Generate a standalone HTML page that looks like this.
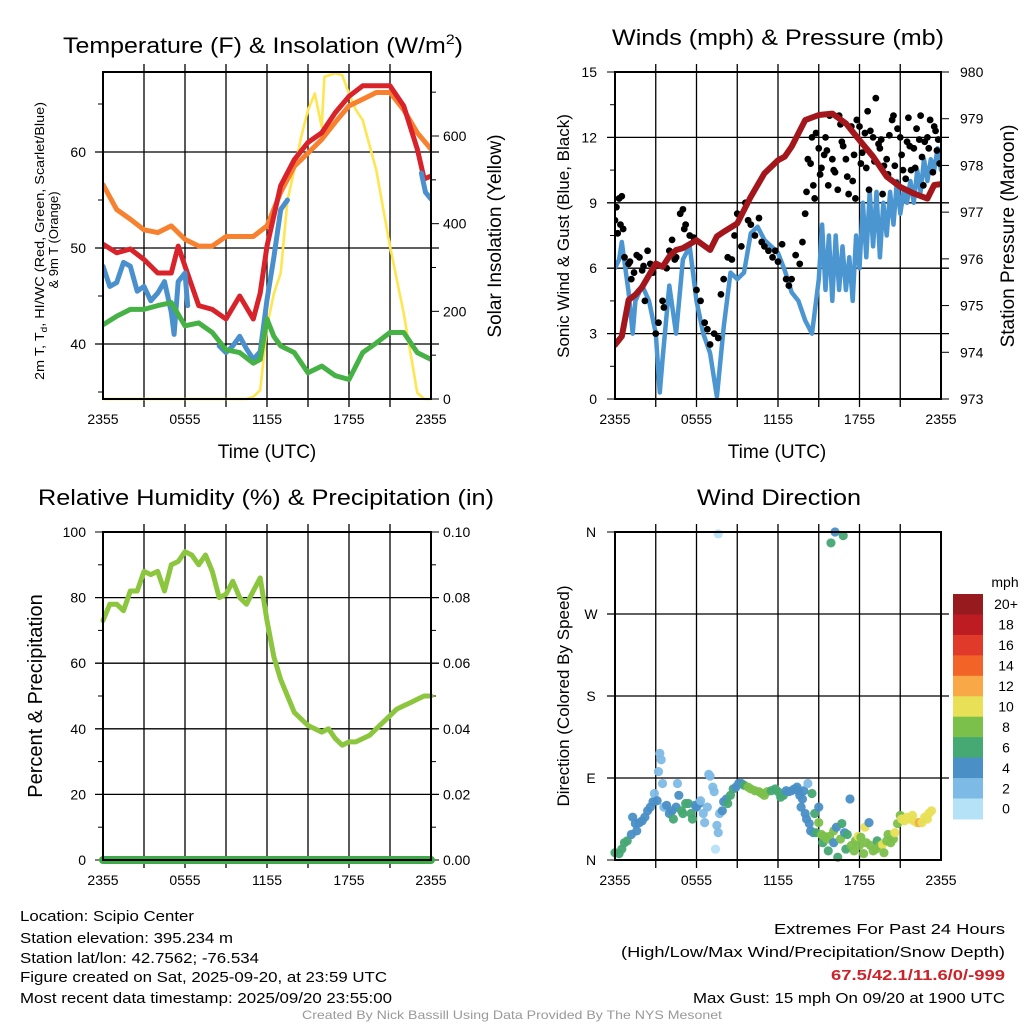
<!DOCTYPE html>
<html><head><meta charset="utf-8"><style>
html,body{margin:0;padding:0;background:#fff;}
svg{display:block;font-family:"Liberation Sans",Arial,sans-serif;}
</style></head><body>
<svg id="chart" width="1024" height="1024" viewBox="0 0 1024 1024" xmlns="http://www.w3.org/2000/svg">
<rect width="1024" height="1024" fill="#fff"/>
<text x="63" y="53" font-size="22" textLength="400" lengthAdjust="spacingAndGlyphs">Temperature (F) &amp; Insolation (W/m<tspan font-size="14" dy="-9">2</tspan><tspan dy="9">)</tspan></text>
<text x="612" y="45" font-size="22" textLength="332" lengthAdjust="spacingAndGlyphs">Winds (mph) &amp; Pressure (mb)</text>
<text x="38" y="505" font-size="22" textLength="456" lengthAdjust="spacingAndGlyphs">Relative Humidity (%) &amp; Precipitation (in)</text>
<text x="697" y="505" font-size="22" textLength="164" lengthAdjust="spacingAndGlyphs">Wind Direction</text>
<text transform="translate(44,241) rotate(-90)" text-anchor="middle" font-size="13" textLength="278" lengthAdjust="spacingAndGlyphs">2m T, T<tspan font-size="9" dy="3">d</tspan><tspan dy="-3">, HI/WC (Red, Green, Scarlet/Blue)</tspan></text>
<text transform="translate(58,240) rotate(-90)" text-anchor="middle" font-size="13">&amp; 9m T (Orange)</text>
<text transform="translate(501,236) rotate(-90)" text-anchor="middle" font-size="19">Solar Insolation (Yellow)</text>
<text x="267" y="458" text-anchor="middle" font-size="19">Time (UTC)</text>
<text transform="translate(569,236) rotate(-90)" text-anchor="middle" font-size="17">Sonic Wind &amp; Gust (Blue, Black)</text>
<text transform="translate(1014,236) rotate(-90)" text-anchor="middle" font-size="19">Station Pressure (Maroon)</text>
<text x="777" y="458" text-anchor="middle" font-size="19">Time (UTC)</text>
<text transform="translate(42,696) rotate(-90)" text-anchor="middle" font-size="20">Percent &amp; Precipitation</text>
<text transform="translate(569,696) rotate(-90)" text-anchor="middle" font-size="17">Direction (Colored By Speed)</text>
<g font-size="15">
<text x="20" y="921" textLength="174" lengthAdjust="spacingAndGlyphs">Location: Scipio Center</text>
<text x="20" y="943" textLength="213" lengthAdjust="spacingAndGlyphs">Station elevation: 395.234 m</text>
<text x="20" y="963" textLength="239" lengthAdjust="spacingAndGlyphs">Station lat/lon: 42.7562; -76.534</text>
<text x="20" y="982" textLength="367" lengthAdjust="spacingAndGlyphs">Figure created on Sat, 2025-09-20, at 23:59 UTC</text>
<text x="20" y="1003" textLength="372" lengthAdjust="spacingAndGlyphs">Most recent data timestamp: 2025/09/20 23:55:00</text>
</g>
<g font-size="15">
<text x="774" y="934" textLength="231" lengthAdjust="spacingAndGlyphs">Extremes For Past 24 Hours</text>
<text x="621" y="957" textLength="384" lengthAdjust="spacingAndGlyphs">(High/Low/Max Wind/Precipitation/Snow Depth)</text>
<text x="831" y="980" fill="#cc2229" font-weight="bold" textLength="174" lengthAdjust="spacingAndGlyphs">67.5/42.1/11.6/0/-999</text>
<text x="693" y="1003" textLength="312" lengthAdjust="spacingAndGlyphs">Max Gust: 15 mph On 09/20 at 1900 UTC</text>
</g>
<text x="302" y="1019" font-size="12" fill="#999" textLength="420" lengthAdjust="spacingAndGlyphs">Created By Nick Bassill Using Data Provided By The NYS Mesonet</text>
<g id="plots"></g>
</svg>
<script>
// ---------- DATA ----------
const xTickLabels = ["2355","0555","1155","1755","2355"];
const tempTicks = [40,50,60];
const solarTicks = [0,200,400,600];
const redT =  [0,1,2,3,4,5,5.5,6,7,8,9,10,11,11.5,12,13,14,15,16,17,18,19,20,21,22,23,23.5,24];
const redV =  [50.4,49.5,49.9,48.8,47.4,47.4,50.2,48.1,44,43.6,42.6,45,42.6,45.3,50.2,56.5,59.2,61,62,64.1,65.8,66.9,66.9,66.9,64.8,60.3,57.2,57.5];
const blueT = [0,0.5,1,1.5,2,2.5,3,3.5,4,4.5,5,5.2,5.5,6,6.2,null,8.5,9,9.5,10,10.5,11,11.5,12,12.5,13,13.5,null,23.3,23.6,24];
const blueV = [48.1,46,46.4,48.5,48.1,45.5,46,44.5,45.3,46.5,43.3,41,46.5,47.4,44,null,39.8,39.1,39.8,40.8,39.5,38.4,39.2,44.6,49,54,55,null,57.8,55.8,55.1];
const greenT = [0,1,2,3,4,5,6,7,8,9,10,11,11.5,12,12.5,13,14,15,16,17,18,18.5,19,20,21,22,23,24];
const greenV = [42,42.9,43.6,43.6,44,44.3,41.9,42.2,41.2,39.4,39.1,38,38.4,42.6,40.8,39.8,39.1,37,37.7,36.7,36.3,37.7,39.1,40.1,41.2,41.2,39.1,38.4];
const orangeT = [0,1,2,3,4,5,6,7,8,9,10,11,12,13,14,15,16,17,18,19,20,21,22,23,24];
const orangeV = [56.6,54,53,51.9,51.6,52.3,50.9,50.2,50.2,51.2,51.2,51.2,52.3,55.8,58.5,59.9,61.3,63.1,64.8,65.5,66.2,66.2,64.4,62,60.3];
const solarT = [0,10.5,11,11.5,12,12.5,13,13.5,14,14.5,15,15.5,16,16.2,17,17.5,18,18.5,19,20,21,22,23,23.5,24];
const solarV = [0,0,5,20,165,240,287,454,522,598,659,697,621,735,743,739,697,660,636,522,348,196,14,0,0];
const windTicks = [0,3,6,9,12,15];
const presTicks = [973,974,975,976,977,978,979,980];
const windT = [0,0.3,0.5,1,1.3,1.5,2,2.5,3,3.3,3.5,4,4.5,5,5.5,6,6.5,7,7.5,8,8.5,9,9.5,10,10.5,11,11.5,12,12.5,13,13.5,14,14.5,15,15.25,15.5,15.75,16,16.25,16.5,16.75,17,17.25,17.5,17.75,18,18.25,18.5,18.75,19,19.25,19.5,19.75,20,20.25,20.5,20.75,21,21.25,21.5,21.75,22,22.25,22.5,22.75,23,23.25,23.5,23.75,24];
const windV = [6,6.4,7.2,4.9,3,4.5,5.2,4.5,3,0.3,1.8,5.2,3,6.4,7,4.5,3,2.1,0.1,3.3,5.8,5.5,5.8,7.6,7.9,7.3,7,6.7,5.9,4.9,4.5,3.6,3,5.5,8,5,7.5,4.5,7.5,5,7,5,6.5,4.5,7.5,6,9,6.5,9.5,7,9.5,6.5,9,7.5,9.5,8,10,8.5,9.5,9,10,9,10.5,9.5,11,10,11,10.5,11.5,10.5];
const gustT = [0,0.1,0.2,0.3,0.4,0.5,0.7,1,1.2,1.4,1.6,1.8,2,2.2,2.4,2.6,2.8,3,3.2,3.5,3.8,4,4.2,4.5,4.8,5,5.2,5.5,5.8,6,6.3,6.6,7,7.3,7.6,8,8.3,8.6,9,9.3,9.6,10,10.3,10.6,11,11.3,11.6,12,12.3,12.6,13,13.3,13.6,14,14.2,14.5,14.8,15,15.2,15.5,15.8,16,16.2,16.5,16.8,17,17.2,17.5,17.8,18,18.2,18.5,18.8,19,19.2,19.5,19.8,20,20.2,20.5,20.8,21,21.2,21.5,21.8,22,22.2,22.5,22.8,23,23.2,23.5,23.7,23.9,
  0.6,1.1,2.1,3.6,4.4,5.1,6.8,7.8,8.8,9.8,10.8,11.8,12.8,13.8,
  14.1,14.4,14.7,15.1,15.4,15.7,16.1,16.4,16.7,17.1,17.4,17.7,18.1,18.4,18.7,19.1,19.4,19.7,20.1,20.4,20.7,21.1,21.4,21.7,22.1,22.4,22.7,23.1,23.4,23.8,
  14.6,15.6,16.6,17.6,18.6,19.6,20.6,21.6,22.6,23.6];
const gustV = [8.2,8.8,7.6,9.2,8,9.3,6.5,6.2,5.5,5.8,6.6,6.5,5.9,4.5,6.8,6.2,5.8,3,3.5,4.5,6,6.8,7.3,6.5,8.5,8.7,8,7.5,7.4,5,4.5,3.5,2.5,3,2.8,5.5,6.5,6.4,8.5,7,9,8,7.5,8.3,7,6.8,6.5,6.3,7.1,5.5,5.5,6.6,6.2,8.5,11,12,12.2,11.5,10.6,12,13,11,10.4,13,11.6,11,9.4,10,12.8,12.5,11.3,10.6,12.3,12,13.8,11.5,10.7,11,12.1,13,12.4,12,10.5,11.8,10.5,11.5,12.4,13,11.8,12,12.8,12.5,11.4,10.8,
  7.8,6.3,6.1,4.2,6.4,7.8,3.2,4.8,7.5,8.2,7.2,6.8,5.2,7.2,
  9.5,10.8,9.2,10.3,11.2,9.8,10.5,9.6,11.8,10.2,12.5,9.2,10.8,12.2,9.6,10.9,11.7,9.4,10.3,12.8,9.9,11.2,10.1,11.6,10.6,11.9,9.8,11.5,10.4,11.9,
  9.8,11.4,12.6,11.2,13.2,11.9,10.7,12.9,11.1,12.3];
const presT = [0,0.5,1,1.5,2,3,3.5,4,4.5,5,6,7,7.5,8,9,10,11,12,12.5,13,14,15,16,17,18,19,20,21,22,23,23.5,24];
const presV = [974.16,974.34,975.12,975.23,975.4,975.9,975.83,976.05,976.19,976.23,976.4,976.19,976.48,976.58,976.76,977.33,977.83,978.11,978.19,978.4,978.97,979.08,979.11,978.9,978.54,978.19,977.76,977.54,977.4,977.29,977.58,977.6];
const rhTicks = [0,20,40,60,80,100];
const precipTicks = ["0.00","0.02","0.04","0.06","0.08","0.10"];
const rhT = [0,0.5,1,1.5,2,2.5,3,3.5,4,4.5,5,5.5,6,6.5,7,7.5,8,8.5,9,9.5,10,10.5,11,11.5,12,12.5,13,13.5,14,14.5,15,15.5,16,16.5,17,17.5,18,18.5,19,19.5,20,20.5,21,21.5,22,22.5,23,23.5,24];
const rhV = [73,78,78,76,82,82,88,87,88,82,90,91,94,93,90,93,88,80,81,85,80,78,82,86,73,62,55,50,45,43,41,40,39,40,37,35,36,36,37,38,40,42,44,46,47,48,49,50,50];
const precipT = [0,24];
const precipV = [0,0];
const dirLabels = ["N","E","S","W","N"];
const speedBins = ["0","2","4","6","8","10","12","14","16","18","20+"];
const speedColors = ["#b6e2f8","#7ebae6","#4a8fc6","#46a873","#7cc04c","#e8e056","#f9a848","#f26328","#e03a2a","#bd1c23","#961a1e"];
const dirT = [0,0.3,0.5,0.7,0.9,1.2,1.3,1.5,1.6,1.8,2,2.2,2.4,2.6,2.8,2.9,3.1,3.2,3.3,3.4,3.5,3.6,3.8,4,4.2,4.3,4.5,4.6,4.7,4.9,5,5.2,5.4,5.6,5.7,5.9,6,6.2,6.3,6.5,6.6,6.8,6.9,7,7.2,7.3,7.4,7.5,7.6,7.7,7.6,7.9,8,8.2,8.3,8.5,8.7,8.9,9.1,9.3,9.5,9.8,10,10.3,10.6,10.8,11,11.2,11.5,11.8,12,12.2,12.4,12.6,12.8,13,13.2,13.4,13.5,13.6,13.7,13.8,13.9,14,14.1,14.2,14.3,14.4,14.5,14.6,14.7,14.8,15,15,15.2,15.3,15.4,15.6,15.7,15.8,15.9,16.1,16.1,16.2,16.3,16.4,16.6,16.7,16.8,16.9,17,17.1,17.3,17.4,17.6,17.7,17.9,18,18.1,18.3,18.4,18.5,18.7,18.8,19,19.2,19.3,19.5,19.7,19.8,20,20.1,20.3,20.5,20.6,20.8,21,21.1,21.3,21.5,21.7,21.9,22,22.2,22.4,22.6,22.8,23,23.1,23.3];
const dirV = [8,7,12,19,21,28,47,40,32,41,43,47,54,58,64,73,65,97,117,110,84,58,60,51,54,45,58,84,71,54,51,62,62,51,45,60,58,62,65,51,41,58,94,92,80,75,12,38,30,51,358,54,64,67,62,71,78,80,84,84,82,80,78,76,75,73,71,75,76,78,75,69,71,76,75,76,78,80,76,71,58,67,76,51,45,84,40,32,73,30,51,30,58,41,28,19,26,23,10,26,348,32,19,360,36,3,23,40,356,30,12,28,67,16,10,21,26,16,25,7,36,19,41,16,10,12,21,16,17,8,21,28,19,23,30,40,49,45,43,47,45,49,43,41,41,41,47,45,51,54];
const dirS = [6,6,6,6,6,4,4,4,4,4,4,4,4,4,4,2,4,2,2,2,2,2,4,4,4,6,4,2,4,6,6,6,6,6,6,4,4,4,2,2,2,2,2,2,2,2,0,2,2,2,0,4,4,4,6,6,6,4,4,4,6,8,8,8,8,8,8,8,6,6,6,6,6,4,4,4,4,4,4,4,4,4,4,4,4,2,4,4,6,4,6,6,4,8,8,6,8,8,6,8,6,8,4,4,4,6,8,6,6,4,6,6,4,8,8,8,10,8,8,8,10,8,4,8,8,8,6,8,10,8,8,8,8,8,10,8,8,10,10,10,10,10,10,10,12,10,10,10,10,10];

// ---------- DRAWING ----------
const NS = "http://www.w3.org/2000/svg";
const root = document.getElementById("plots");
function mk(tag, attrs, parent){ const e=document.createElementNS(NS,tag); for(const k in attrs) e.setAttribute(k,attrs[k]); (parent||root).appendChild(e); return e; }
function linScale(d0,d1,r0,r1){ return v => r0 + (v-d0)/(d1-d0)*(r1-r0); }
function frame(L,T,R,B,name){
  const g = mk("g",{});
  
  
  const x = linScale(0,24,L,R);
  for(let h=3; h<24; h+=3){
    const ln = mk("line",{x1:x(h),x2:x(h),y1:T-8,y2:B+8,stroke:"#000","stroke-width":1.3},g);
    
    
  }
  return {g,x};
}
function hgrid(g,L,R,y){ const ln=mk("line",{x1:L-8,x2:R+8,y1:y,y2:y,stroke:"#000","stroke-width":1.3},g);   }
function border(L,T,R,B,name){ const r=mk("rect",{x:L,y:T,width:R-L,height:B-T,fill:"none",stroke:"#000","stroke-width":2});   }
function xTicks(x,B,name){
  xTickLabels.forEach((s,i)=>{
    const t = mk("text",{x:x(i*6),y:B+25,"text-anchor":"middle","font-size":14}); t.textContent=s;
    
    
  });
}
function label(xp,yp,s,anchor,name,size){ const t=mk("text",{x:xp,y:yp+5,"text-anchor":anchor,"font-size":size||14}); t.textContent=s;   return t; }
function pathFrom(T,V,x,y){
  let d="", pen=false;
  for(let i=0;i<T.length;i++){
    if(T[i]===null||V[i]===null){pen=false;continue;}
    d += (pen?"L":"M")+x(T[i]).toFixed(1)+","+y(V[i]).toFixed(1);
    pen=true;
  }
  return d;
}
function series(T,V,x,y,color,w,name,clip){
  const p = mk("path",{d:pathFrom(T,V,x,y),fill:"none",stroke:color,"stroke-width":w,"stroke-linejoin":"round","stroke-linecap":"round","clip-path":clip});
  
  
  return p;
}
const defs = mk("defs",{});
function clip(id,L,T,R,B){ const c=mk("clipPath",{id:id},defs); mk("rect",{x:L,y:T,width:R-L,height:B-T},c); return "url(#"+id+")"; }

(function(){
  const L=103,T=72,R=431,B=399;
  const {g,x}=frame(L,T,R,B,"temperature");
  const y=linScale(40,60,344,152);
  const ys=linScale(0,600,B,136);
  tempTicks.forEach(v=>{hgrid(g,L,R,y(v)); label(86,y(v),String(v),"end","temperature-y-tick-label");});
  [35,45,55,65].forEach(v=>mk("line",{x1:L-5,x2:L,y1:y(v),y2:y(v),stroke:"#000"}));
  solarTicks.forEach(v=>{mk("line",{x1:R,x2:R+8,y1:ys(v),y2:ys(v),stroke:"#000"}); label(443,ys(v),String(v),"start","solar-y-tick-label");});
  [100,300,500,700].forEach(v=>mk("line",{x1:R,x2:R+5,y1:ys(v),y2:ys(v),stroke:"#000"}));
  xTicks(x,B,"temperature");
  const c=clip("c1",L,T-6,R,B+2);
  series(solarT,solarV,x,ys,"#fde64f",2.6,"solar-insolation-line",c);
  series(orangeT,orangeV,x,y,"#f7812f",5,"9m-temperature-line",c);
  series(redT,redV,x,y,"#d8232a",5,"2m-temperature-line",c);
  series(blueT,blueV,x,y,"#4a90cd",5,"heat-index-windchill-line",c);
  series(greenT,greenV,x,y,"#46b145",5,"dewpoint-line",c);
  border(L,T,R,B,"temperature");
})();

(function(){
  const L=615,T=72,R=941,B=399;
  const {g,x}=frame(L,T,R,B,"wind");
  const y=linScale(0,15,B,T);
  const yp=linScale(973,980,B,T);
  windTicks.forEach(v=>{ if(v>0&&v<15) hgrid(g,L,R,y(v)); else mk("line",{x1:L-8,x2:L,y1:y(v),y2:y(v),stroke:"#000"}); label(597,y(v),String(v),"end","wind-y-tick-label");});
  [1.5,4.5,7.5,10.5,13.5].forEach(v=>mk("line",{x1:L-5,x2:L,y1:y(v),y2:y(v),stroke:"#000"}));
  presTicks.forEach(v=>{mk("line",{x1:R,x2:R+8,y1:yp(v),y2:yp(v),stroke:"#000"}); label(960,yp(v),String(v),"start","pressure-y-tick-label");});
  xTicks(x,B,"wind");
  const c=clip("c2",L,T-4,R,B+4);
  series(windT,windV,x,y,"#4b96d1",4.5,"sonic-wind-line",c);
  const gg=mk("g",{"clip-path":c});
  
  
  gustT.forEach((t,i)=>{
    const d=mk("circle",{cx:x(t),cy:y(gustV[i]),r:3.4,fill:"#000"},gg);
    
    
  });
  series(presT,presV,x,yp,"#a3171c",6,"station-pressure-line",c);
  border(L,T,R,B,"wind");
})();

(function(){
  const L=103,T=532,R=431,B=860;
  const {g,x}=frame(L,T,R,B,"humidity");
  const y=linScale(0,100,B,T);
  rhTicks.forEach((v,i)=>{ if(v>0&&v<100) hgrid(g,L,R,y(v)); else { mk("line",{x1:L-8,x2:L,y1:y(v),y2:y(v),stroke:"#000"}); mk("line",{x1:R,x2:R+8,y1:y(v),y2:y(v),stroke:"#000"}); }
    label(86,y(v),String(v),"end","humidity-y-tick-label");
    label(443,y(v),precipTicks[i],"start","precip-y-tick-label");});
  [10,30,50,70,90].forEach(v=>{mk("line",{x1:L-5,x2:L,y1:y(v),y2:y(v),stroke:"#000"});mk("line",{x1:R,x2:R+5,y1:y(v),y2:y(v),stroke:"#000"});});
  xTicks(x,B,"humidity");
  series(rhT,rhV,x,y,"#8cc63f",5,"relative-humidity-line");
  const yq=linScale(0,0.1,B,T);
  series(precipT,precipV,x,yq,"#3daa48",8,"precipitation-line");
  border(L,T,R,B,"humidity");
})();

(function(){
  const L=615,T=532,R=941,B=860;
  const {g,x}=frame(L,T,R,B,"direction");
  const y=linScale(0,360,B,T);
  dirLabels.forEach((s,i)=>{ const v=i*90; if(v>0&&v<360) hgrid(g,L,R,y(v)); else mk("line",{x1:L-8,x2:L,y1:y(v),y2:y(v),stroke:"#000"}); label(591,y(v),s,"middle","direction-y-tick-label");});
  xTicks(x,B,"direction");
  const gg=mk("g",{});
  
  
  dirT.forEach((t,i)=>{
    const bin=Math.min(10,Math.max(0,Math.round(dirS[i]/2)));
    const d=mk("circle",{cx:x(t),cy:y(dirV[i]),r:4.6,fill:speedColors[bin],"fill-opacity":0.95},gg);
    
    
  });
  border(L,T,R,B,"direction");
  const cb=mk("g",{});
  
  
  const top=594,h=20.45;
  const t0=mk("text",{x:1005,y:587,"text-anchor":"middle","font-size":14},cb); t0.textContent="mph";
  
  
  for(let k=10;k>=0;k--){
    const yy=top+(10-k)*h;
    const r=mk("rect",{x:953,y:yy,width:30,height:h+0.5,fill:speedColors[k]},cb);
    
    
    const tx=mk("text",{x:1006,y:yy+h/2+5,"text-anchor":"middle","font-size":14},cb); tx.textContent=speedBins[k];
    
    
  }
})();
</script>
</body></html>
